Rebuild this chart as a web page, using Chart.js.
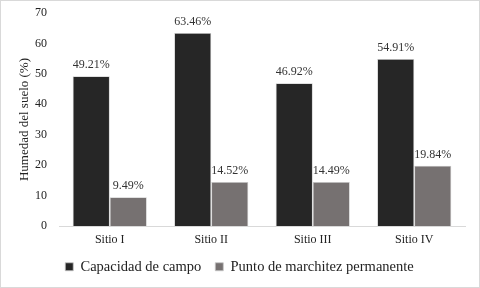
<!DOCTYPE html>
<html><head><meta charset="utf-8">
<script src="https://cdn.jsdelivr.net/npm/chart.js@4/dist/chart.umd.min.js"></script>
<style>html,body{margin:0;padding:0;background:#fff}#wrap{width:480px;height:288px}</style>
</head><body><div id="wrap"><canvas id="c" width="480" height="288"></canvas></div>
<script>
const categories = ["Sitio I", "Sitio II", "Sitio III", "Sitio IV"];
const capacidadCampo = [49.21, 63.46, 46.92, 54.91];
const puntoMarchitez = [9.49, 14.52, 14.49, 19.84];
const yTicks = [0, 10, 20, 30, 40, 50, 60, 70];
const seriesNames = ["Capacidad de campo", "Punto de marchitez permanente"];

const FONT = "'Liberation Serif', 'Times New Roman', serif";

const labelPlugin = {
  id: 'barLabels',
  beforeDraw(chart) {
    const ctx = chart.ctx;
    ctx.save();
    ctx.strokeStyle = '#d9d9d9';
    ctx.lineWidth = 1;
    ctx.strokeRect(0.5, 0.5, chart.width - 1, chart.height - 1);
    ctx.restore();
  },
  afterDatasetsDraw(chart) {
    const ctx = chart.ctx;
    ctx.save();
    ctx.font = "12px " + FONT;
    ctx.fillStyle = "#333";
    ctx.textAlign = "center";
    ctx.textBaseline = "bottom";
    chart.data.datasets.forEach((ds, i) => {
      const meta = chart.getDatasetMeta(i);
      meta.data.forEach((bar, j) => {
        ctx.fillText(ds.data[j].toFixed(2) + "%", bar.x, bar.y - 5);
      });
    });
    ctx.restore();
  }
};

new Chart(document.getElementById('c'), {
  type: 'bar',
  data: {
    labels: categories,
    datasets: [
      { label: seriesNames[0], data: capacidadCampo, backgroundColor: '#262626', borderColor: '#c8c8c8', borderWidth: 0.8 },
      { label: seriesNames[1], data: puntoMarchitez, backgroundColor: '#767171', borderColor: '#c8c8c8', borderWidth: 0.8 }
    ]
  },
  options: {
    responsive: false,
    animation: false,
    devicePixelRatio: 1,
    layout: { padding: { left: 14, right: 15, top: 13, bottom: 4 } },
    datasets: { bar: { barPercentage: 1, categoryPercentage: 0.73 } },
    plugins: {
      legend: {
        position: 'bottom',
        labels: { font: { family: FONT, size: 14.5 }, color: '#222', boxWidth: 8, boxHeight: 8, padding: 14 }
      },
      tooltip: { enabled: false }
    },
    scales: {
      x: {
        afterFit(axis) { axis.height -= 9; },
        grid: { display: false, drawTicks: false },
        border: { color: '#d9d9d9' },
        ticks: { font: { family: FONT, size: 12 }, color: '#222', padding: 7 }
      },
      y: {
        min: 0, max: 70,
        afterBuildTicks(axis) { axis.ticks = yTicks.map(v => ({ value: v })); },
        afterFit(axis) { axis.width = 45; axis.paddingTop = 0; axis.paddingBottom = 0; },
        grid: { display: false, drawTicks: false },
        border: { display: false },
        ticks: { font: { family: FONT, size: 12 }, color: '#222', padding: 12 },
        title: { display: true, text: 'Humedad del suelo (%)', font: { family: FONT, size: 13 }, color: '#222', padding: 3 }
      }
    }
  },
  plugins: [labelPlugin]
});
</script></body></html>
